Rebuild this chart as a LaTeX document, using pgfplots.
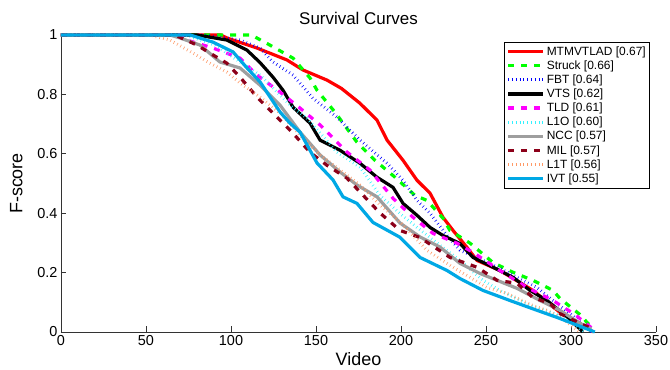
\documentclass[border=0pt]{standalone}
\usepackage{fontspec}
\setmainfont{Liberation Sans}
\usepackage{pgfplots}
\pgfplotsset{compat=1.18}
\definecolor{cRed}{rgb}{1,0,0}
\definecolor{cGreen}{rgb}{0,1,0}
\definecolor{cBlue}{rgb}{0,0,1}
\definecolor{cMag}{rgb}{1,0,1}
\definecolor{cCyan}{rgb}{0.2,0.95,1}
\definecolor{cGray}{rgb}{0.62,0.62,0.62}
\definecolor{cMIL}{rgb}{0.55,0.0,0.1}
\definecolor{cL1T}{rgb}{1,0.6,0.4}
\definecolor{cIVT}{rgb}{0.0,0.66,0.9}
\begin{document}
\begin{tikzpicture}
\begin{axis}[
  width=595bp, height=297bp, scale only axis,
  xmin=0, xmax=350, ymin=0, ymax=1,
  axis lines=left, axis line style={-, black!80, line width=0.6bp},
  xtick={0,50,...,350}, ytick={0,0.2,0.4,0.6,0.8,1},
  tick align=inside, major tick length=5.5bp,
  tick style={black!80, line width=0.6bp},
  /pgf/number format/assume math mode=true,
  ticklabel style={font=\fontsize{14.5}{16}\selectfont},
  xlabel={Video}, ylabel={F-score}, title={Survival Curves},
  label style={font=\fontsize{18}{20}\selectfont},
  ylabel style={yshift=8bp},
  title style={font=\fontsize{17}{20}\selectfont, yshift=1bp},
  clip=false,
  legend style={at={(0.99,0.976)}, anchor=north east,
    font=\fontsize{12}{13}\selectfont, draw=black, line width=0.6bp,
    cells={anchor=west}, inner sep=2bp, row sep=0bp},
  legend image code/.code={\draw[#1] (0bp,0bp) -- (35bp,0bp);},
]
\addplot[cRed, line width=3.2bp] coordinates {(0,1) (94,1) (97.6,0.99) (115.3,0.956) (132.9,0.916) (142.4,0.882) (156.5,0.848) (165,0.82) (175.9,0.770) (185.9,0.713) (191.8,0.646) (201.2,0.578) (209.4,0.511) (217.1,0.467) (224.7,0.386) (230.6,0.342) (238.8,0.285) (244.7,0.241) (258.2,0.207) (277.6,0.140) (293.5,0.066) (305,0.03) (313,0)};
\addlegendentry{MTMVTLAD [0.67]}
\addplot[cGreen, line width=3.2bp, dash pattern=on 6bp off 7bp] coordinates {(0,1) (112,1) (122.9,0.966) (136.5,0.922) (146.5,0.855) (150.6,0.814) (161.2,0.740) (174.1,0.639) (184.7,0.578) (196.5,0.521) (208.2,0.460) (215.3,0.443) (224.7,0.383) (228.8,0.342) (240.6,0.299) (254.1,0.234) (265.9,0.201) (277.6,0.174) (289.4,0.140) (293.5,0.113) (305,0.06) (313,0.01)};
\addlegendentry{Struck [0.66]}
\addplot[cBlue, line width=3bp, dash pattern=on 0.6bp off 3.2bp] coordinates {(0,1) (84,1) (105.3,0.983) (117.1,0.956) (124.7,0.909) (136.5,0.865) (148.2,0.787) (162.4,0.723) (175.9,0.646) (191.8,0.568) (201.2,0.511) (209.4,0.443) (217.1,0.400) (227.1,0.325) (234.7,0.275) (248.2,0.241) (258.2,0.214) (268.2,0.184) (280,0.150) (289.4,0.106) (302,0.05) (312,0)};
\addlegendentry{FBT [0.64]}
\addplot[black, line width=3.2bp] coordinates {(0,1) (80,1) (97.6,0.983) (109.4,0.949) (117.1,0.907) (124.7,0.858) (130.6,0.814) (136.5,0.757) (146.5,0.703) (152.4,0.646) (164.1,0.612) (175.9,0.568) (185.9,0.521) (195.3,0.487) (201.2,0.433) (209.4,0.393) (217.1,0.352) (224.7,0.325) (234.7,0.298) (242.4,0.251) (254.1,0.218) (265.9,0.184) (275.9,0.140) (285.9,0.106) (298,0.05) (307,0)};
\addlegendentry{VTS [0.62]}
\addplot[cMag, line width=3.2bp, dash pattern=on 6bp off 7bp] coordinates {(0,1) (70,1) (74.1,0.983) (89.4,0.956) (105.3,0.922) (115.3,0.865) (128.8,0.808) (140.6,0.754) (152.4,0.697) (168.2,0.606) (181.8,0.545) (195.3,0.450) (207.1,0.386) (218.8,0.332) (232.9,0.299) (242.4,0.268) (258.2,0.207) (274.1,0.150) (289.4,0.106) (302,0.06) (313,0.01)};
\addlegendentry{TLD [0.61]}
\addplot[cCyan, line width=3bp, dash pattern=on 0.6bp off 3.2bp] coordinates {(0,1) (73,1) (90.6,0.966) (105.3,0.909) (117.1,0.865) (134.7,0.764) (144.7,0.720) (162.4,0.605) (175.9,0.555) (187.6,0.460) (199.4,0.399) (209.4,0.352) (222.9,0.292) (234.7,0.241) (248.2,0.174) (258.2,0.140) (275.9,0.089) (293.5,0.056) (308,0)};
\addlegendentry{L1O [0.60]}
\addplot[cGray, line width=3.2bp] coordinates {(0,1) (64,1) (70,0.990) (81.8,0.966) (93.5,0.909) (105.3,0.889) (117.1,0.831) (128.8,0.764) (140.6,0.673) (152.4,0.596) (164.1,0.539) (174.1,0.495) (185.9,0.455) (199.4,0.367) (211.2,0.320) (222.9,0.286) (234.7,0.231) (246.5,0.197) (268.2,0.147) (281.8,0.106) (293.5,0.073) (305,0.03) (312,0.01)};
\addlegendentry{NCC [0.57]}
\addplot[cMIL, line width=3.2bp, dash pattern=on 6bp off 7bp] coordinates {(0,1) (67,1) (80,0.966) (87.6,0.939) (97.6,0.905) (105.3,0.858) (115.3,0.791) (124.7,0.737) (136.5,0.669) (146.5,0.605) (156.5,0.561) (168.2,0.518) (177.6,0.461) (187.6,0.401) (199.4,0.342) (211.2,0.318) (228.8,0.251) (244.7,0.218) (256.5,0.174) (268.2,0.164) (277.6,0.116) (287.6,0.096) (293.5,0.062) (305,0.03) (313,0.01)};
\addlegendentry{MIL [0.57]}
\addplot[cL1T, line width=3bp, dash pattern=on 0.6bp off 3.2bp] coordinates {(0,1) (52,1) (64.1,0.983) (77.6,0.939) (87.6,0.905) (97.6,0.875) (105.3,0.838) (117.1,0.791) (128.8,0.737) (140.6,0.663) (152.4,0.596) (164.1,0.546) (175.9,0.495) (187.6,0.428) (199.4,0.371) (215.3,0.275) (230.6,0.218) (250.6,0.150) (262.4,0.130) (277.6,0.089) (285.9,0.073) (296,0.04) (305,0)};
\addlegendentry{L1T [0.56]}
\addplot[cIVT, line width=3.2bp] coordinates {(0,1) (76,1) (89.4,0.976) (101.2,0.943) (109.4,0.889) (117.1,0.842) (128.8,0.741) (134.7,0.703) (140.6,0.673) (150.6,0.569) (160,0.512) (165.9,0.455) (174.1,0.433) (183.5,0.369) (199.4,0.319) (211.2,0.251) (227.1,0.207) (234.7,0.180) (248.2,0.140) (264.1,0.106) (280,0.073) (291.8,0.049) (305,0.02) (314,0)};
\addlegendentry{IVT [0.55]}
\coordinate (BL) at (rel axis cs:0,0);
\coordinate (TR) at (rel axis cs:1,1);
\end{axis}
\pgfresetboundingbox
\path[use as bounding box] ([shift={(-61bp,-38bp)}]BL) rectangle ([shift={(14bp,35bp)}]TR);
\end{tikzpicture}
\end{document}
